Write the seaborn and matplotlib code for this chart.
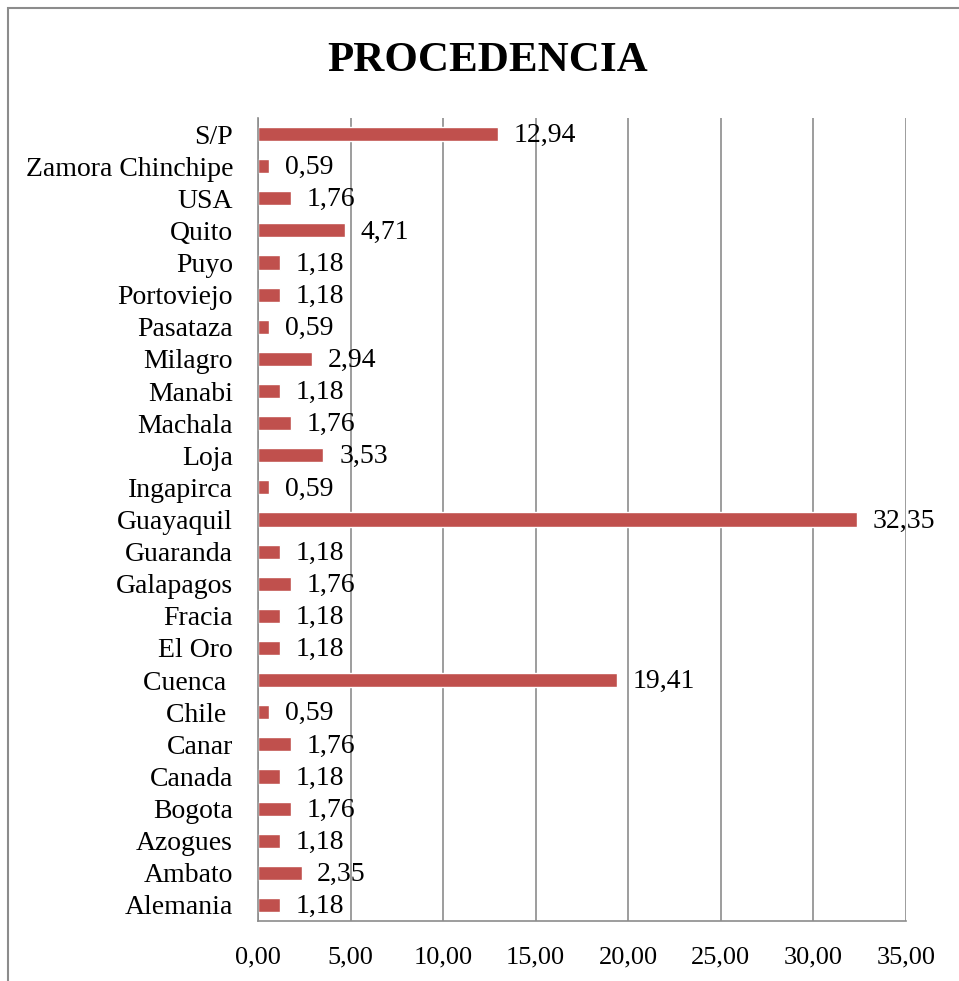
import matplotlib
matplotlib.use('Agg')
import matplotlib.pyplot as plt
import matplotlib.patches as mpatches
from matplotlib.ticker import FuncFormatter, FixedLocator
import seaborn as sns
import pandas as pd

# data, top to bottom as shown
places = [
    'S/P', 'Zamora Chinchipe', 'USA', 'Quito', 'Puyo', 'Portoviejo',
    'Pasataza', 'Milagro', 'Manabi', 'Machala', 'Loja', 'Ingapirca',
    'Guayaquil', 'Guaranda', 'Galapagos', 'Fracia', 'El Oro', 'Cuenca ',
    'Chile ', 'Canar', 'Canada', 'Bogota', 'Azogues', 'Ambato', 'Alemania'
]
percent = [
    12.94, 0.59, 1.76, 4.71, 1.18, 1.18,
    0.59, 2.94, 1.18, 1.76, 3.53, 0.59,
    32.35, 1.18, 1.76, 1.18, 1.18, 19.41,
    0.59, 1.76, 1.18, 1.76, 1.18, 2.35, 1.18
]
x_ticks = [0, 5, 10, 15, 20, 25, 30, 35]

df = pd.DataFrame({'place': places, 'pct': percent})

sns.set_style('white')
plt.rcParams['font.family'] = ['Liberation Serif', 'DejaVu Serif']
plt.rcParams['text.color'] = 'black'
plt.rcParams['xtick.labelcolor'] = 'black'
plt.rcParams['ytick.labelcolor'] = 'black'

fig = plt.figure(figsize=(9.59, 9.81), dpi=100)
ax = fig.add_axes([258 / 959, 1 - 921 / 981, 648 / 959, 803 / 981])

sns.barplot(
    data=df,
    x='pct',
    y='place',
    order=places,
    orient='h',
    color='#C0504D',
    saturation=1,
    width=0.44,
    ax=ax
)

# value labels
for i, v in enumerate(percent):
    ax.text(v + 0.85, i + 0.05, f"{v:.2f}".replace('.', ','),
            va='center', ha='left', fontsize=20)

ax.set_xlim(0, 35)
ax.set_ylim(len(places) - 0.5, -0.5)
ax.xaxis.set_major_locator(FixedLocator(x_ticks))
ax.xaxis.set_major_formatter(
    FuncFormatter(lambda v, p: f"{v:.2f}".replace('.', ','))
)
ax.grid(axis='x', color='#8c8c8c', linewidth=1.2)
ax.set_axisbelow(True)

for side in ['top', 'right']:
    ax.spines[side].set_visible(False)
for side in ['left', 'bottom']:
    ax.spines[side].set_color('#8c8c8c')
    ax.spines[side].set_linewidth(1.2)

# Excel style ticks between categories
ax.yaxis.set_minor_locator(
    FixedLocator([k - 0.5 for k in range(len(places) + 1)])
)
ax.tick_params(axis='y', which='major', length=0, labelsize=20, pad=18)
ax.tick_params(axis='y', which='minor', length=6, color='#8c8c8c', width=1.2)
ax.tick_params(axis='x', which='major', length=6, color='#8c8c8c', width=1.2,
               labelsize=19, pad=12)

ax.set_xlabel('')
ax.set_ylabel('')

fig.text(488 / 959, 1 - 61 / 981, 'PROCEDENCIA', ha='center', va='center',
         fontsize=31, fontweight='bold', color='black')

# chart area border
fig.patches.append(mpatches.Rectangle(
    (8 / 959, -0.05), 1.0, 1 - 8 / 981 + 0.05,
    transform=fig.transFigure, fill=False,
    edgecolor='#8c8c8c', linewidth=1.5
))

fig.savefig('out.png', dpi=100)
